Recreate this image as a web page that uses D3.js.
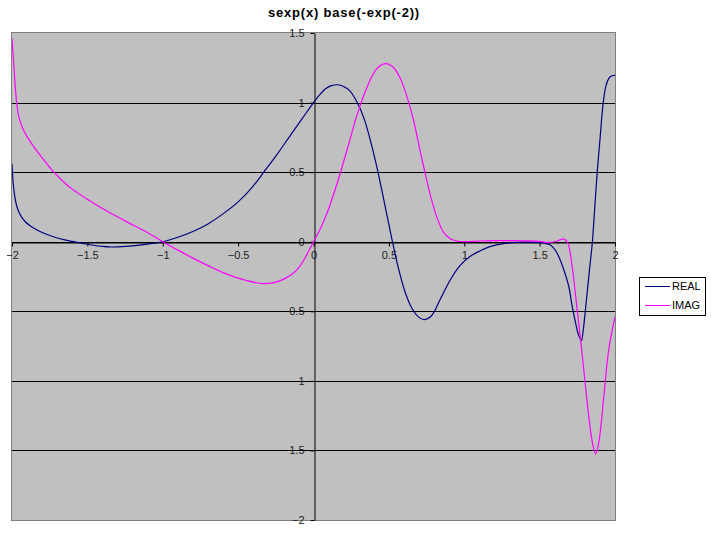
<!DOCTYPE html>
<html>
<head>
<meta charset="utf-8">
<script src="https://cdn.jsdelivr.net/npm/d3@7"></script>
<style>
  body { margin: 0; background: #fff; }
  text { font-family: "Liberation Sans", Arial, sans-serif; }
</style>
</head>
<body>
<script>
// values
var xReal = [-2, -1.995, -1.99, -1.98, -1.97, -1.955, -1.935, -1.91, -1.88, -1.857, -1.8, -1.725, -1.65, -1.6, -1.5, -1.4, -1.34, -1.3, -1.2, -1.1, -1,
  -0.9, -0.8, -0.7, -0.6, -0.5, -0.4, -0.33, -0.25, -0.15, -0.075, 0, 0.04, 0.08, 0.12, 0.16, 0.2, 0.24, 0.295, 0.34, 0.384,
  0.429, 0.473, 0.518, 0.562, 0.607, 0.651, 0.696, 0.733, 0.784, 0.84, 0.907, 0.973, 1.04, 1.1, 1.17, 1.28, 1.4, 1.5, 1.55, 1.572,
  1.6, 1.616, 1.64, 1.66, 1.693, 1.716, 1.738, 1.755, 1.771, 1.778, 1.79, 1.8, 1.815, 1.83, 1.85, 1.866, 1.882, 1.9, 1.922, 1.94,
  1.96, 1.98, 2];
var real = [0.56, 0.46, 0.395, 0.315, 0.262, 0.215, 0.175, 0.142, 0.115, 0.098, 0.066, 0.036, 0.013, 0.002, -0.018, -0.034, -0.038, -0.037, -0.03, -0.017, 0,
  0.032, 0.073, 0.128, 0.2, 0.286, 0.4, 0.5, 0.615, 0.77, 0.885, 1, 1.055, 1.1, 1.122, 1.128, 1.115, 1.086, 0.99, 0.87, 0.70,
  0.495, 0.265, 0.03, -0.185, -0.36, -0.475, -0.54, -0.56, -0.53, -0.415, -0.275, -0.17, -0.105, -0.068, -0.035, -0.01, -0.003, -0.006, -0.015, -0.024,
  -0.055, -0.083, -0.14, -0.2, -0.32, -0.464, -0.58, -0.66, -0.70, -0.709, -0.63, -0.53, -0.37, -0.21, 0, 0.25, 0.5, 0.73, 1.0, 1.12,
  1.175, 1.193, 1.195];

var xImag = [-2, -1.985, -1.969, -1.955, -1.935, -1.9, -1.857, -1.8, -1.727, -1.65, -1.6, -1.5, -1.4, -1.26, -1.1, -1,
  -0.9, -0.8, -0.7, -0.6, -0.5, -0.44, -0.38, -0.33, -0.28, -0.22, -0.15, -0.1, -0.05, 0, 0.044, 0.088, 0.13, 0.173, 0.24, 0.284,
  0.329, 0.384, 0.429, 0.48, 0.529, 0.573, 0.618, 0.662, 0.707, 0.74, 0.773, 0.818, 0.862, 0.907, 0.951, 1, 1.1, 1.2, 1.3, 1.4,
  1.5, 1.55, 1.6, 1.64, 1.66, 1.687, 1.716, 1.749, 1.771, 1.793, 1.815, 1.837, 1.855, 1.871, 1.888, 1.904, 1.926, 1.959, 2];
var imag = [1.46, 1.22, 1.0, 0.9, 0.83, 0.755, 0.685, 0.603, 0.505, 0.422, 0.378, 0.305, 0.238, 0.155, 0.065, 0,
  -0.06, -0.118, -0.172, -0.222, -0.262, -0.28, -0.295, -0.301, -0.298, -0.28, -0.24, -0.19, -0.105, 0, 0.09, 0.2, 0.33, 0.476, 0.727, 0.895,
  1.038, 1.18, 1.254, 1.28, 1.254, 1.18, 1.05, 0.88, 0.655, 0.495, 0.344, 0.177, 0.069, 0.022, 0.005, 0, 0.005, 0.008, 0.008, 0.006,
  0.003, -0.005, 0, 0.015, 0.02, -0.01, -0.18, -0.49, -0.70, -0.92, -1.15, -1.35, -1.47, -1.525, -1.47, -1.35, -1.11, -0.77, -0.54];

var xTicks = [-2, -1.5, -1, -0.5, 0, 0.5, 1, 1.5, 2];
var yTicks = [-2, -1.5, -1, -0.5, 0, 0.5, 1, 1.5];
var seriesNames = ['REAL', 'IMAG'];
var seriesColors = ['#000080', '#ff00ff'];

var W = 711, H = 534;
var plot = { left: 12, right: 615, top: 33, bottom: 520 };

var svg = d3.select('body').append('svg')
  .attr('width', W)
  .attr('height', H);

var x = d3.scaleLinear().domain([-2, 2]).range([plot.left, plot.right]);
var y = d3.scaleLinear().domain([-2, 1.5]).range([plot.bottom, plot.top]);

// title
svg.append('text')
  .attr('x', 344).attr('y', 17)
  .attr('text-anchor', 'middle')
  .style('font-size', '13px').style('font-weight', 'bold')
  .style('letter-spacing', '0.8px')
  .text('sexp(x) base(-exp(-2))');

// grey plot area + border
svg.append('rect')
  .attr('x', plot.left - 0.5).attr('y', plot.top - 0.5)
  .attr('width', plot.right - plot.left + 1).attr('height', plot.bottom - plot.top + 1)
  .attr('fill', '#c0c0c0').attr('stroke', '#808080');

// axes cross at zero
var xAxis = svg.append('g')
  .attr('transform', 'translate(0,' + (Math.round(y(0)) + 0.5) + ')')
  .call(d3.axisBottom(x).tickValues(xTicks).tickSize(4).tickSizeOuter(0).tickPadding(5).tickFormat(d3.format('')));
var yAxis = svg.append('g')
  .attr('transform', 'translate(' + (Math.round(x(0)) + 0.5) + ',0)')
  .call(d3.axisLeft(y).tickValues(yTicks).tickSize(4).tickSizeOuter(0).tickPadding(6).tickFormat(d3.format('')));

[xAxis, yAxis].forEach(function(a) {
  a.selectAll('path, line').attr('stroke', '#000');
  a.selectAll('text').attr('fill', '#222').style('font-size', '11px')
    .style('font-family', '"Liberation Sans", Arial, sans-serif');
});

// gridlines (drawn over the labels like the original)
svg.append('g').selectAll('line')
  .data(yTicks.filter(function(d) { return d > -2 && d < 1.5; }))
  .enter().append('line')
  .attr('x1', plot.left).attr('x2', plot.right)
  .attr('y1', function(d) { return Math.round(y(d)) + 0.5; })
  .attr('y2', function(d) { return Math.round(y(d)) + 0.5; })
  .attr('stroke', '#000');

// series
svg.append('clipPath').attr('id', 'clip').append('rect')
  .attr('x', plot.left).attr('y', plot.top)
  .attr('width', plot.right - plot.left).attr('height', plot.bottom - plot.top);

var line = d3.line()
  .x(function(d) { return x(d[0]); })
  .y(function(d) { return y(d[1]); })
  .curve(d3.curveCatmullRom.alpha(0.5));

var series = [d3.zip(xReal, real), d3.zip(xImag, imag)];

svg.append('g').attr('clip-path', 'url(#clip)')
  .selectAll('path').data(series)
  .enter().append('path')
  .attr('d', line)
  .attr('fill', 'none')
  .attr('stroke', function(d, i) { return seriesColors[i]; })
  .attr('stroke-width', 1.2);

// legend
var legend = svg.append('g');
legend.append('rect')
  .attr('x', 639.5).attr('y', 277.5).attr('width', 66).attr('height', 38)
  .attr('fill', '#fff').attr('stroke', '#000');
var items = legend.selectAll('g.item').data(seriesNames)
  .enter().append('g').attr('class', 'item')
  .attr('transform', function(d, i) { return 'translate(0,' + (286 + i * 19) + ')'; });
items.append('line')
  .attr('x1', 645).attr('x2', 670).attr('y1', 0.5).attr('y2', 0.5)
  .attr('stroke', function(d, i) { return seriesColors[i]; });
items.append('text')
  .attr('x', 672).attr('y', 0).attr('dy', '0.36em')
  .style('font-size', '11px').attr('fill', '#000')
  .text(function(d) { return d; });
</script>
</body>
</html>
